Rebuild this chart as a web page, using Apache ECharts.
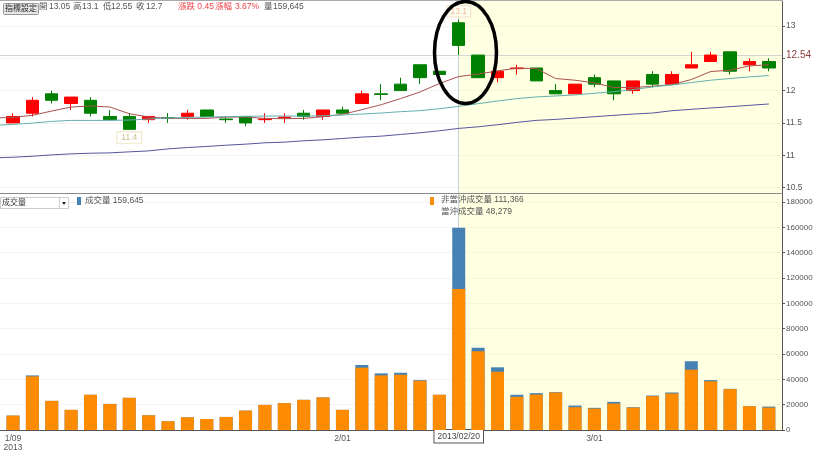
<!DOCTYPE html>
<html lang="zh-Hant">

<head>
    <meta charset="UTF-8">
    <title>成交量</title>
    <script src="https://cdn.jsdelivr.net/npm/echarts@6/dist/echarts.min.js"></script>
    <style>
        html, body { margin: 0; padding: 0; background: #fff; }
        #main { width: 819px; height: 451px; }
    </style>
</head>

<body>
    <div id="main"></div>

    <script>
        // K線
        var opens  = [11.5, 11.65, 11.95, 11.8, 11.85, 11.6, 11.6, 11.55, 11.58, 11.6, 11.7, 11.56, 11.6, 11.55, 11.58, 11.65, 11.6, 11.7, 11.8, 11.95, 12.1, 12.4, 12.3, 13.05, 12.55, 12.2, 12.34, 12.35, 12.0, 11.95, 12.2, 12.15, 12.0, 12.25, 12.1, 12.35, 12.45, 12.6, 12.4, 12.45];
        var closes = [11.6, 11.85, 11.85, 11.9, 11.65, 11.55, 11.4, 11.6, 11.57, 11.65, 11.6, 11.55, 11.5, 11.56, 11.59, 11.6, 11.7, 11.65, 11.95, 11.94, 12.0, 12.2, 12.25, 12.7, 12.2, 12.3, 12.35, 12.15, 11.95, 12.1, 12.1, 11.95, 12.15, 12.1, 12.25, 12.4, 12.55, 12.3, 12.45, 12.35];
        var lows   = [11.5, 11.6, 11.8, 11.7, 11.6, 11.55, 11.4, 11.5, 11.5, 11.55, 11.6, 11.5, 11.45, 11.5, 11.5, 11.55, 11.55, 11.65, 11.8, 11.85, 12.0, 12.1, 12.25, 12.55, 12.2, 12.13, 12.25, 12.15, 11.95, 11.95, 12.05, 11.85, 11.95, 12.05, 12.1, 12.35, 12.45, 12.25, 12.3, 12.3];
        var highs  = [11.65, 11.9, 12.0, 11.9, 11.9, 11.7, 11.65, 11.6, 11.65, 11.7, 11.7, 11.6, 11.6, 11.65, 11.65, 11.7, 11.7, 11.75, 12.0, 12.1, 12.2, 12.4, 12.3, 13.1, 12.55, 12.3, 12.4, 12.35, 12.1, 12.1, 12.25, 12.15, 12.15, 12.3, 12.3, 12.6, 12.6, 12.6, 12.5, 12.5];

        // 均線 (第一個值是畫面左邊界外的前一天)
        var maShort = [11.575, 11.585, 11.617, 11.684, 11.746, 11.762, 11.746, 11.642, 11.591, 11.57, 11.57, 11.57, 11.59, 11.59, 11.57, 11.565, 11.57, 11.596, 11.632, 11.705, 11.782, 11.876, 11.979, 12.109, 12.218, 12.254, 12.306, 12.347, 12.342, 12.187, 12.161, 12.12, 12.047, 12.047, 12.067, 12.093, 12.171, 12.295, 12.316, 12.383, 12.399];
        var maMid = [11.461, 11.477, 11.497, 11.523, 11.539, 11.539, 11.539, 11.544, 11.56, 11.575, 11.585, 11.591, 11.596, 11.601, 11.606, 11.606, 11.606, 11.611, 11.622, 11.637, 11.653, 11.674, 11.689, 11.72, 11.756, 11.798, 11.839, 11.876, 11.902, 11.917, 11.933, 11.959, 11.984, 12.016, 12.057, 12.088, 12.124, 12.161, 12.187, 12.212, 12.233];
        var maLong = [10.959, 10.969, 10.984, 11.005, 11.021, 11.031, 11.036, 11.052, 11.067, 11.098, 11.119, 11.135, 11.155, 11.171, 11.192, 11.202, 11.223, 11.238, 11.259, 11.28, 11.295, 11.321, 11.347, 11.378, 11.415, 11.44, 11.472, 11.508, 11.539, 11.554, 11.575, 11.596, 11.617, 11.637, 11.653, 11.689, 11.71, 11.731, 11.751, 11.772, 11.793];

        // 成交量 (總量 = 當沖 + 非當沖, 藍色露出的部分就是當沖)
        var totalVol = [11370, 43100, 23000, 15900, 27800, 20600, 25400, 11600, 6900, 10000, 8700, 10300, 15300, 19800, 21200, 23800, 25700, 15900, 51300, 44700, 45200, 39400, 27800, 159645, 65000, 49500, 27800, 29100, 29900, 19300, 17500, 22200, 18000, 27200, 29600, 54200, 39400, 32500, 18800, 18500];
        var nonHedgeVol = [11370, 42300, 23000, 15900, 27800, 20600, 25400, 11600, 6900, 10000, 8700, 10300, 15300, 19800, 21200, 23800, 25700, 15900, 49200, 43100, 43600, 38900, 27800, 111366, 62200, 46000, 26200, 28000, 29600, 18000, 16900, 20900, 17700, 26700, 28800, 47600, 38400, 32300, 18800, 17700];

        // 座標軸
        var priceTicks = [10.5, 11, 11.5, 12, 12.5, 13];
        var priceLabels = [10.5, 11, 11.5, 12, 13];
        var volumeTicks = [0, 20000, 40000, 60000, 80000, 100000, 120000, 140000, 160000, 180000];
        var dateTickIndex = [0, 17, 30];
        var dateTickLabels = ['1/09\n2013', '2/01', '3/01'];
        var selectedIndex = 23;
        var selectedDate = '2013/02/20';
        var refPrice = 12.54;
        var lowMark = [6, 11.4];
        var highMark = [23, 13.1];

        var xMin = -0.67, xMax = 39.68;
        var fontFamily = '"Liberation Sans", "Noto Sans CJK TC", sans-serif';

        function toLine(values) {
            // values[0] 是前一天, x = -1
            return values.map(function (v, i) { return [i - 1, v]; });
        }

        function maSeries(values, color) {
            return {
                type: 'line',
                xAxisIndex: 0,
                yAxisIndex: 0,
                data: toLine(values),
                showSymbol: false,
                symbol: 'none',
                silent: true,
                z: 4,
                lineStyle: { color: color, width: 1 }
            };
        }

        // 上下兩張圖共用的底色
        function shade() {
            return {
                silent: true,
                itemStyle: { color: 'rgba(255,255,170,0.34)' },
                data: [[{ xAxis: selectedIndex }, { xAxis: xMax }]]
            };
        }

        function text(x, y, str, color, size) {
            return {
                type: 'text',
                x: x,
                y: y,
                z: 20,
                style: { text: str, fill: color || '#555', fontSize: size || 8.5, fontFamily: fontFamily, verticalAlign: 'middle' }
            };
        }

        var red = '#f0444a';
        var headerItems = [
            text(39, 7, '開'), text(49, 7, '13.05'),
            text(73, 7, '高'), text(82, 7, '13.1'),
            text(103, 7, '低'), text(111, 7, '12.55'),
            text(136, 7, '收'), text(146, 7, '12.7'),
            text(178, 7, '漲跌 0.45', red), text(215, 7, '漲幅', red), text(235, 7, '3.67%', red),
            text(264, 7, '量'), text(273, 7, '159,645')
        ];

        var widgets = [
            // 指標設定 按鈕
            { type: 'rect', z: 20, shape: { x: 3.5, y: 3.5, width: 35, height: 11, r: 1 }, style: { fill: '#e6e6e6', stroke: '#999', lineWidth: 1 } },
            text(5, 9, '指標設定', '#222', 8),
            // 下拉選單
            { type: 'rect', z: 20, shape: { x: 0.5, y: 197.5, width: 68, height: 11 }, style: { fill: '#fff', stroke: '#ccc', lineWidth: 1 } },
            { type: 'line', z: 20, shape: { x1: 59.5, y1: 198, x2: 59.5, y2: 208 }, style: { stroke: '#ccc', lineWidth: 1 } },
            { type: 'polygon', z: 20, shape: { points: [[62, 202], [66, 202], [64, 205]] }, style: { fill: '#222' } },
            text(2, 203, '成交量', '#333', 8),
            // 圖例
            { type: 'rect', z: 20, shape: { x: 77, y: 197, width: 4, height: 8 }, style: { fill: '#4682b4' } },
            text(85, 201, '成交量 159,645'),
            { type: 'rect', z: 20, shape: { x: 430, y: 197, width: 4, height: 8 }, style: { fill: '#ff8c00' } },
            text(441, 200, '非當沖成交量 111,366'),
            text(441, 212, '當沖成交量 48,279'),
            // 上框線
            { type: 'line', z: 20, shape: { x1: 0, y1: 0.5, x2: 782, y2: 0.5 }, style: { stroke: '#aaa', lineWidth: 1 } },
            // 註記的橢圓
            { type: 'ellipse', z: 30, shape: { cx: 465.5, cy: 52.5, rx: 31, ry: 51 }, style: { fill: 'none', stroke: '#000', lineWidth: 3.5 } }
        ];

        var option = {
            animation: false,
            textStyle: { fontFamily: fontFamily },
            graphic: headerItems.concat(widgets),
            grid: [
                { left: 0, right: 37, top: 1, height: 192, outerBoundsMode: 'none' },
                { left: 0, right: 37, top: 194, height: 236, outerBoundsMode: 'none' }
            ],
            xAxis: [
                {
                    type: 'value', gridIndex: 0, min: xMin, max: xMax,
                    splitLine: { show: false },
                    axisTick: { show: false },
                    axisLabel: { show: false },
                    axisLine: { onZero: false, lineStyle: { color: '#888' } }
                },
                {
                    type: 'value', gridIndex: 1, min: xMin, max: xMax,
                    splitLine: { show: false },
                    axisTick: { show: false },
                    axisLine: { onZero: false, lineStyle: { color: '#555' } },
                    axisLabel: {
                        customValues: dateTickIndex,
                        color: '#555',
                        fontSize: 8.5,
                        lineHeight: 9,
                        margin: 4,
                        formatter: function (v) {
                            return dateTickLabels[dateTickIndex.indexOf(v)];
                        }
                    }
                }
            ],
            yAxis: [
                {
                    type: 'value', gridIndex: 0, position: 'right',
                    min: 10.415, max: 13.387,
                    axisLine: { show: true, onZero: false, lineStyle: { color: '#555' } },
                    axisTick: { show: true, length: 3, customValues: priceTicks, lineStyle: { color: '#555' } },
                    splitLine: { show: true, lineStyle: { color: '#f3f3f3' } },
                    axisLabel: { customValues: priceLabels, color: '#555', fontSize: 8.5, margin: 4 }
                },
                {
                    type: 'value', gridIndex: 1, position: 'right',
                    min: 0, max: 186300,
                    axisLine: { show: true, onZero: false, lineStyle: { color: '#555' } },
                    axisTick: { show: true, length: 3, customValues: volumeTicks, lineStyle: { color: '#555' } },
                    splitLine: { show: true, lineStyle: { color: '#f3f3f3' } },
                    axisLabel: {
                        customValues: volumeTicks, color: '#555', fontSize: 8, margin: 4,
                        formatter: function (v) { return String(v); }
                    }
                }
            ],
            series: [
                {
                    type: 'candlestick',
                    xAxisIndex: 0,
                    yAxisIndex: 0,
                    barWidth: 13,
                    z: 3,
                    encode: { x: 0, y: [1, 2, 3, 4] },
                    data: opens.map(function (o, i) {
                        return [i, o, closes[i], lows[i], highs[i]];
                    }),
                    itemStyle: {
                        color: '#ff0000', color0: '#008000',
                        borderColor: '#ff0000', borderColor0: '#008000',
                        borderWidth: 1
                    },
                    markArea: shade(),
                    markLine: {
                        silent: true,
                        z: 1,
                        symbol: 'none',
                        animation: false,
                        data: [
                            { xAxis: selectedIndex, lineStyle: { color: '#c8cedb', width: 1, type: 'solid' }, label: { show: false } },
                            {
                                yAxis: refPrice,
                                lineStyle: { color: '#d4d4d4', width: 1, type: 'solid' },
                                label: { show: true, position: 'end', distance: 4, color: '#8b3a3a', fontSize: 10, formatter: String(refPrice) }
                            }
                        ]
                    },
                    markPoint: {
                        silent: true,
                        symbol: 'circle',
                        symbolSize: 0,
                        data: [
                            {
                                coord: lowMark,
                                label: {
                                    show: true, position: 'bottom', distance: 3, formatter: String(lowMark[1]),
                                    color: '#c9bf8a', fontSize: 8.5, backgroundColor: '#fff', borderColor: '#ece6c0', borderWidth: 1, padding: [1, 4]
                                }
                            },
                            {
                                coord: highMark,
                                label: {
                                    show: true, position: 'top', distance: 3, formatter: String(highMark[1]),
                                    color: '#f0b9a0', fontSize: 8.5, backgroundColor: '#fffff0', borderColor: '#f5dccb', borderWidth: 1, padding: [1, 3]
                                }
                            }
                        ]
                    }
                },
                maSeries(maShort, '#a8504f'),
                maSeries(maMid, '#62b0ae'),
                maSeries(maLong, '#55559f'),
                {
                    type: 'bar',
                    name: '成交量',
                    xAxisIndex: 1,
                    yAxisIndex: 1,
                    barWidth: 13,
                    barGap: '-100%',
                    z: 3,
                    itemStyle: { color: '#4682b4' },
                    data: totalVol.map(function (v, i) { return [i, v]; }),
                    markArea: shade(),
                    markLine: {
                        silent: true,
                        z: 1,
                        symbol: 'none',
                        animation: false,
                        lineStyle: { color: '#c8cedb', width: 1, type: 'solid' },
                        data: [{ xAxis: selectedIndex }],
                        label: {
                            show: true, position: 'start', distance: 0, formatter: selectedDate,
                            color: '#444', fontSize: 8.5, backgroundColor: '#fff', borderColor: '#555', borderWidth: 1, padding: [2, 3]
                        }
                    }
                },
                {
                    type: 'bar',
                    name: '非當沖成交量',
                    xAxisIndex: 1,
                    yAxisIndex: 1,
                    barWidth: 13,
                    barGap: '-100%',
                    z: 3,
                    itemStyle: { color: '#ff8c00' },
                    data: nonHedgeVol.map(function (v, i) { return [i, v]; })
                }
            ]
        };

        var myChart = echarts.init(document.getElementById('main'));
        myChart.setOption(option);
    </script>
</body>

</html>
